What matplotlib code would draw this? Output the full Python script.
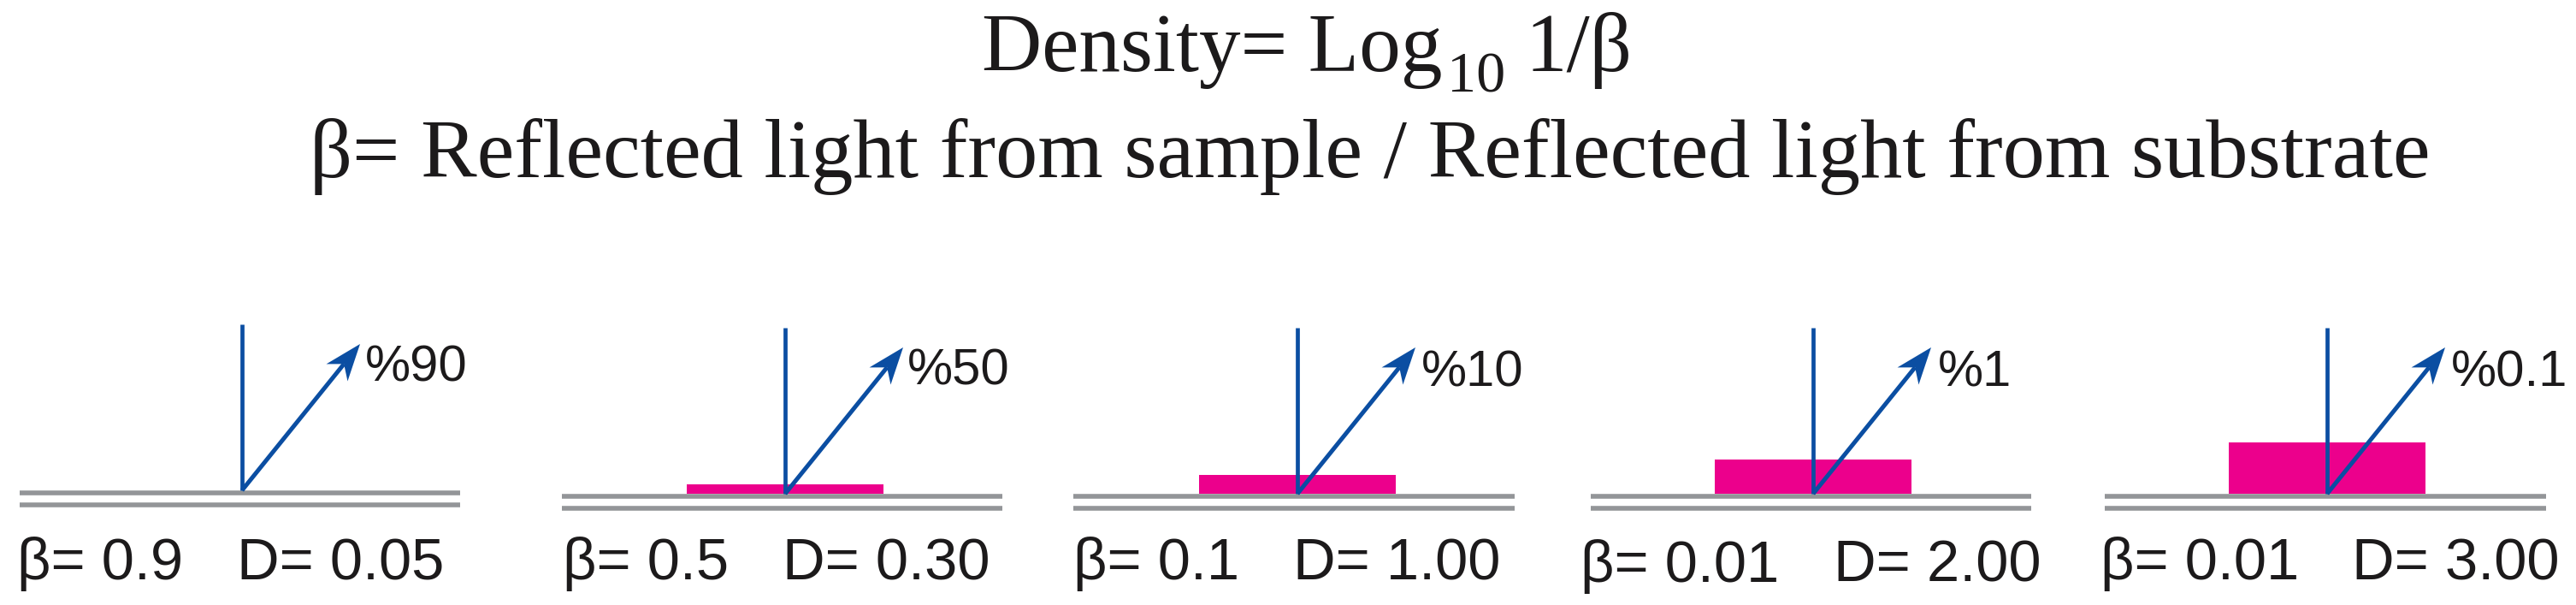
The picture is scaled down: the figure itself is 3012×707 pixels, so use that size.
import math
import matplotlib
matplotlib.use("Agg")
import matplotlib.pyplot as plt

# ---- data ----
beta_labels = ["β= 0.9", "β= 0.5", "β= 0.1", "β= 0.01", "β= 0.01"]
density_labels = ["D= 0.05", "D= 0.30", "D= 1.00", "D= 2.00", "D= 3.00"]
reflect_labels = ["%90", "%50", "%10", "%1", "%0.1"]
film_thickness = [0, 11, 22, 40, 60]
title_main = "Density= Log"
title_sub = "10"
title_tail = "1/β"
title_line2 = "β= Reflected light from sample / Reflected light from substrate"

# ---- layout (pixels of the 3012x707 canvas) ----
W, H = 3012, 707
panel_left = [23, 657, 1255, 1860, 2461]
panel_right = [538, 1172, 1771, 2375, 2977]
panel_normal = [283, 918, 1517, 2120, 2721]
panel_base = [573, 577, 577, 577, 577]
film_half = 115
normal_len = 194
arrow_dx = 138
arrow_dy = 171
head_len, head_half, head_notch = 43, 16, 30
beta_x = [20, 658, 1255, 1848, 2456]
dens_x = [277, 915, 1512, 2144, 2750]
label_y = [677, 677, 677, 680, 677]
pct_x = [427, 1061, 1662, 2266, 2866]
pct_y = [445, 450, 452, 452, 452]

PINK = "#EC008C"
BLUE = "#0B4EA2"
GRAY = "#939598"
INK = "#1C1A1B"
SERIF = "Liberation Serif"
SANS = "Liberation Sans"

fig = plt.figure(figsize=(W / 100, H / 100), dpi=100, facecolor="white")


def put(x, y, s, size, family):
    fig.text(x / W, 1 - y / H, s, fontsize=size, family=family, color=INK,
             ha="left", va="baseline")


norm = math.hypot(arrow_dx, arrow_dy)
ux, uy = arrow_dx / norm, arrow_dy / norm
px, py = -uy, ux

for i in range(5):
    base = panel_base[i]
    top_pad, bot_pad = 210, 30
    ax = fig.add_axes([panel_left[i] / W, 1 - (base + bot_pad) / H,
                       (panel_right[i] - panel_left[i]) / W,
                       (top_pad + bot_pad) / H])
    ax.set_xlim(panel_left[i] - panel_normal[i], panel_right[i] - panel_normal[i])
    ax.set_ylim(-bot_pad, top_pad)
    ax.axis("off")
    ax.hlines([-3, -17], panel_left[i] - panel_normal[i],
              panel_right[i] - panel_normal[i], color=GRAY, lw=4.0, zorder=1)
    if film_thickness[i] > 0:
        ax.bar(0, film_thickness[i], width=2 * film_half, color=PINK, zorder=2)
    ax.plot([0, 0], [0, normal_len], color=BLUE, lw=3.4, zorder=3,
            solid_capstyle="butt")
    ax.plot([0, arrow_dx - head_notch * ux], [0, arrow_dy - head_notch * uy],
            color=BLUE, lw=3.6, zorder=3, solid_capstyle="butt")
    ax.fill([arrow_dx,
             arrow_dx - head_len * ux + head_half * px,
             arrow_dx - head_notch * ux,
             arrow_dx - head_len * ux - head_half * px],
            [arrow_dy,
             arrow_dy - head_len * uy + head_half * py,
             arrow_dy - head_notch * uy,
             arrow_dy - head_len * uy - head_half * py],
            color=BLUE, lw=0, zorder=3)
    put(beta_x[i], label_y[i], beta_labels[i], 49.5, SANS)
    put(dens_x[i], label_y[i], density_labels[i], 49.5, SANS)
    put(pct_x[i], pct_y[i], reflect_labels[i], 43, SANS)

put(1148, 83, title_main, 70, SERIF)
put(1692, 108, title_sub, 49, SERIF)
put(1783, 83, title_tail, 70, SERIF)
put(362, 207, title_line2, 70.8, SERIF)

fig.savefig("out.png", dpi=100, facecolor="white")
